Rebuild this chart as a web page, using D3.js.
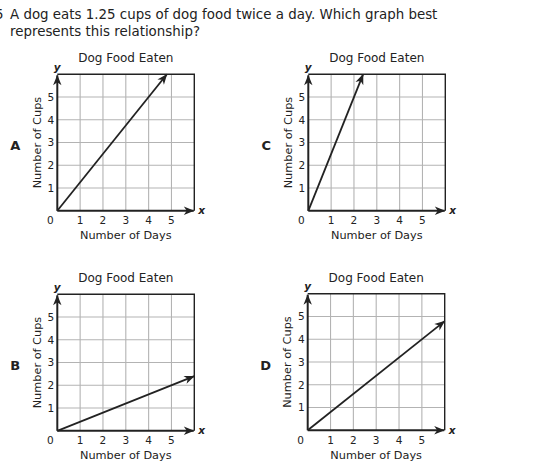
<!DOCTYPE html>
<html>
<head>
<meta charset="utf-8">
<script src="https://cdn.jsdelivr.net/npm/d3@7"></script>
<style>
  html, body { margin: 0; padding: 0; background: #fff; }
  svg { display: block; }
  text { font-family: "DejaVu Sans", Verdana, sans-serif; fill: #222; }
</style>
</head>
<body>
<svg id="chart" width="545" height="472"></svg>
<script>
// ---- data ----
const questionNumber = "5";
const questionLines = [
  "A dog eats 1.25 cups of dog food twice a day. Which graph best",
  "represents this relationship?"
];
const chartTitle = "Dog Food Eaten";
const xAxisTitle = "Number of Days";
const yAxisTitle = "Number of Cups";
const xTickLabels = [1, 2, 3, 4, 5];
const yTickLabels = [1, 2, 3, 4, 5];
const axisMax = 6;
const panelLetters = ["A", "B", "C", "D"];
// line endpoints (days, cups) for each option
const lineA = [[0, 0], [4.8, 6]];
const lineB = [[0, 0], [6, 2.4]];
const lineC = [[0, 0], [2.4, 6]];
const lineD = [[0, 0], [6, 4.8]];

// ---- layout ----
const svg = d3.select("#chart");
const ink = "#222";
const W = 137, H = 136.5;
const panelPos = {
  A: { left: 57.3, top: 74.3, line: lineA },
  C: { left: 308.3, top: 74.3, line: lineC },
  B: { left: 57.3, top: 294.3, line: lineB },
  D: { left: 307.7, top: 293.8, line: lineD }
};

// arrowhead marker
const defs = svg.append("defs");
defs.append("marker")
  .attr("id", "arrow")
  .attr("markerUnits", "userSpaceOnUse")
  .attr("viewBox", "-12 -6 14 12")
  .attr("refX", 0).attr("refY", 0)
  .attr("markerWidth", 14).attr("markerHeight", 12)
  .attr("orient", "auto")
  .append("path")
  .attr("d", "M0.5,0 L-10,-4.2 L-7,0 L-10,4.2 Z")
  .attr("fill", ink);

// question text
const q = svg.append("g");
q.append("text").attr("x", 3.5).attr("y", 19).attr("text-anchor", "end")
  .style("font-size", "13.4px").text(questionNumber);
questionLines.forEach((t, i) => {
  q.append("text").attr("x", 10).attr("y", 19 + i * 16.6)
    .style("font-size", "13.4px").text(t);
});

panelLetters.forEach(letter => {
  const p = panelPos[letter];
  const x = d3.scaleLinear().domain([0, axisMax]).range([p.left, p.left + W]);
  const y = d3.scaleLinear().domain([0, axisMax]).range([p.top + H, p.top]);
  const g = svg.append("g");

  // grid
  g.selectAll(".gx").data(xTickLabels).join("line")
    .attr("x1", d => x(d)).attr("x2", d => x(d))
    .attr("y1", y(0)).attr("y2", y(axisMax))
    .attr("stroke", "#b3b3b3").attr("stroke-width", 1.1);
  g.selectAll(".gy").data(yTickLabels).join("line")
    .attr("y1", d => y(d)).attr("y2", d => y(d))
    .attr("x1", x(0)).attr("x2", x(axisMax))
    .attr("stroke", "#b3b3b3").attr("stroke-width", 1.1);

  // top and right border
  g.append("path")
    .attr("d", `M${x(0)},${y(axisMax)} L${x(axisMax)},${y(axisMax)} L${x(axisMax)},${y(0)}`)
    .attr("fill", "none").attr("stroke", ink).attr("stroke-width", 1.4);

  // axes with arrows
  g.append("line")
    .attr("x1", x(0)).attr("y1", y(0)).attr("x2", x(0)).attr("y2", y(axisMax) + 1)
    .attr("stroke", ink).attr("stroke-width", 2).attr("marker-end", "url(#arrow)");
  g.append("line")
    .attr("x1", x(0)).attr("y1", y(0)).attr("x2", x(axisMax) - 0.5).attr("y2", y(0))
    .attr("stroke", ink).attr("stroke-width", 2).attr("marker-end", "url(#arrow)");

  // axis letter labels
  g.append("text").attr("x", x(0)).attr("y", y(axisMax) - 3.5)
    .attr("text-anchor", "middle")
    .style("font-size", "10.5px").style("font-style", "italic").style("font-weight", "bold")
    .text("y");
  g.append("text").attr("x", x(axisMax) + 4).attr("y", y(0) + 3.5)
    .style("font-size", "10.5px").style("font-style", "italic").style("font-weight", "bold")
    .text("x");

  // tick labels
  g.selectAll(".xt").data([0].concat(xTickLabels)).join("text")
    .attr("x", d => d === 0 ? x(0) - 7 : x(d))
    .attr("y", y(0) + 13.5)
    .attr("text-anchor", "middle")
    .style("font-size", "10.5px")
    .text(d => d);
  g.selectAll(".yt").data(yTickLabels).join("text")
    .attr("x", x(0) - 3)
    .attr("y", d => y(d) + 3.8)
    .attr("text-anchor", "end")
    .style("font-size", "10.5px")
    .text(d => d);

  // titles
  g.append("text").attr("x", (x(0) + x(axisMax)) / 2).attr("y", y(axisMax) - 12)
    .attr("text-anchor", "middle").style("font-size", "12px").text(chartTitle);
  g.append("text").attr("x", (x(0) + x(axisMax)) / 2).attr("y", y(0) + 28.5)
    .attr("text-anchor", "middle").style("font-size", "11.3px").text(xAxisTitle);
  g.append("text")
    .attr("transform", `translate(${x(0) - 16.8},${(y(0) + y(axisMax)) / 2}) rotate(-90)`)
    .attr("text-anchor", "middle").style("font-size", "11.3px").text(yAxisTitle);

  // option letter
  g.append("text").attr("x", x(0) - 42).attr("y", (y(0) + y(axisMax)) / 2 + 7.5)
    .attr("text-anchor", "middle").style("font-size", "13px").style("font-weight", "bold")
    .text(letter);

  // data line
  g.append("path")
    .datum(p.line)
    .attr("d", d3.line().x(d => x(d[0])).y(d => y(d[1])))
    .attr("fill", "none").attr("stroke", ink).attr("stroke-width", 1.8)
    .attr("marker-end", "url(#arrow)");
});
</script>
</body>
</html>
